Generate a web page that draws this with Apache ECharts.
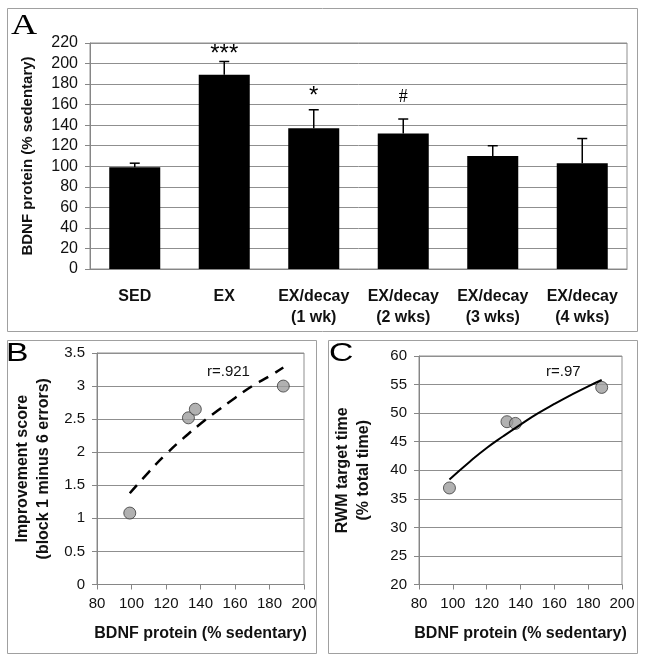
<!DOCTYPE html>
<html>
<head>
<meta charset="utf-8">
<title>BDNF protein</title>
<script src="https://cdn.jsdelivr.net/npm/echarts@6.0.0/dist/echarts.min.js"></script>
<style>
  html, body { margin: 0; padding: 0; background: #fff; }
  #chart { width: 645px; height: 659px; }
</style>
</head>
<body>
<div id="chart"></div>
<script>
// panel A: bars with upper error bars
var groups = ['SED', 'EX', 'EX/decay\n(1 wk)', 'EX/decay\n(2 wks)', 'EX/decay\n(3 wks)', 'EX/decay\n(4 wks)'];
var bdnf = [99, 189, 137, 132, 110, 103];
var bdnfTop = [103, 202, 155, 146, 120, 127];
var marks = ['', '***', '*', '#', '', ''];

// panel B: improvement score vs BDNF
var improve = [[99, 1.08], [133, 2.52], [137, 2.65], [188, 3.0]];
var improveTrend = [[99, 1.38], [110, 1.70], [120, 1.97], [130, 2.21], [140, 2.43], [150, 2.63],
                    [160, 2.82], [170, 3.00], [180, 3.15], [188, 3.28]];

// panel C: RWM target time vs BDNF
var rwm = [[98, 36.9], [132, 48.5], [137, 48.2], [188, 54.5]];
var rwmTrend = [[98, 38.4], [110, 41.5], [120, 43.9], [130, 46.0], [140, 48.0], [150, 49.9],
                [160, 51.6], [170, 53.2], [180, 54.7], [188, 55.8]];

var FONT = 'Liberation Sans, Arial, sans-serif';
var gridCol = '#8f8f8f';
var axisCol = '#868686';

function valueAxis(idx, min, max, step, extra) {
    var a = {
        type: 'value', gridIndex: idx, min: min, max: max, interval: step,
        axisLine: { show: true, lineStyle: { color: axisCol, width: 1 } },
        axisTick: { show: true, length: 5, lineStyle: { color: axisCol } },
        axisLabel: { color: '#111', fontFamily: FONT, fontSize: 15, margin: 12 },
        splitLine: { show: true, lineStyle: { color: gridCol, width: 1 } }
    };
    for (var k in extra) a[k] = extra[k];
    return a;
}

var chart = echarts.init(document.getElementById('chart'));

var option = {
    animation: false,
    backgroundColor: '#fff',
    grid: [
        { left: 90, top: 43, right: 18, bottom: 390, show: true, borderColor: gridCol, borderWidth: 1 },
        { left: 97, top: 353, right: 341, bottom: 74.5, show: true, borderColor: gridCol, borderWidth: 1 },
        { left: 419, top: 356, right: 23, bottom: 74.5, show: true, borderColor: gridCol, borderWidth: 1 }
    ],
    xAxis: [
        {
            type: 'category', gridIndex: 0, data: groups,
            axisLine: { lineStyle: { color: axisCol } },
            axisTick: { length: 5, lineStyle: { color: axisCol } },
            axisLabel: {
                color: '#111', fontFamily: FONT, fontSize: 16, fontWeight: 'bold',
                lineHeight: 21, margin: 17, interval: 0
            }
        },
        valueAxis(1, 80, 200, 20, {
            splitLine: { show: false },
            name: 'BDNF protein (% sedentary)', nameLocation: 'middle', nameGap: 41,
            nameTextStyle: { color: '#111', fontFamily: FONT, fontSize: 16, fontWeight: 'bold' }
        }),
        valueAxis(2, 80, 200, 20, {
            splitLine: { show: false },
            name: 'BDNF protein (% sedentary)', nameLocation: 'middle', nameGap: 41,
            nameTextStyle: { color: '#111', fontFamily: FONT, fontSize: 16, fontWeight: 'bold' }
        })
    ],
    yAxis: [
        valueAxis(0, 0, 220, 20, {
            axisLabel: { color: '#111', fontFamily: FONT, fontSize: 16, margin: 12 },
            name: 'BDNF protein (% sedentary)', nameLocation: 'middle', nameGap: 55,
            nameTextStyle: { color: '#111', fontFamily: FONT, fontSize: 15, fontWeight: 'bold' }
        }),
        valueAxis(1, 0, 3.5, 0.5, {
            name: 'Improvement score\n(block 1 minus 6 errors)', nameLocation: 'middle', nameGap: 43,
            nameTextStyle: { color: '#111', fontFamily: FONT, fontSize: 16, fontWeight: 'bold', lineHeight: 21 }
        }),
        valueAxis(2, 20, 60, 5, {
            name: 'RWM target time\n(% total time)', nameLocation: 'middle', nameGap: 45,
            nameTextStyle: { color: '#111', fontFamily: FONT, fontSize: 16, fontWeight: 'bold', lineHeight: 21 }
        })
    ],
    series: [
        {
            type: 'bar', xAxisIndex: 0, yAxisIndex: 0, data: bdnf,
            barWidth: '57%', itemStyle: { color: '#000' }
        },
        {
            type: 'custom', xAxisIndex: 0, yAxisIndex: 0,
            data: bdnf.map(function (v, i) { return [i, v, bdnfTop[i]]; }),
            renderItem: function (params, api) {
                var base = api.coord([api.value(0), api.value(1)]);
                var top = api.coord([api.value(0), api.value(2)]);
                var x = base[0];
                var kids = [
                    { type: 'line', shape: { x1: x, y1: base[1], x2: x, y2: top[1] },
                      style: { stroke: '#000', lineWidth: 1.5 } },
                    { type: 'line', shape: { x1: x - 5, y1: top[1], x2: x + 5, y2: top[1] },
                      style: { stroke: '#000', lineWidth: 1.5 } }
                ];
                var m = marks[params.dataIndex];
                if (m) {
                    var serif = m === '#';
                    kids.push({
                        type: 'text',
                        style: {
                            text: m, x: x, y: top[1] - (m === '***' ? 7 : (serif ? 22 : 13)),
                            align: 'center', verticalAlign: 'middle',
                            font: serif ? '18px Liberation Serif, serif' : '24px ' + FONT,
                            fill: '#000'
                        }
                    });
                }
                return { type: 'group', children: kids };
            },
            z: 5
        },
        {
            type: 'line', xAxisIndex: 1, yAxisIndex: 1, data: improveTrend,
            smooth: true, symbol: 'none',
            lineStyle: { color: '#000', width: 2.5, type: [11, 8] }
        },
        {
            type: 'scatter', xAxisIndex: 1, yAxisIndex: 1, data: improve,
            symbolSize: 12,
            itemStyle: { color: '#9e9e9e', borderColor: '#3a3a3a', borderWidth: 1 }
        },
        {
            type: 'line', xAxisIndex: 2, yAxisIndex: 2, data: rwmTrend,
            smooth: true, symbol: 'none',
            lineStyle: { color: '#000', width: 2 }
        },
        {
            type: 'scatter', xAxisIndex: 2, yAxisIndex: 2, data: rwm,
            symbolSize: 12,
            itemStyle: { color: '#9e9e9e', borderColor: '#3a3a3a', borderWidth: 1 }
        }
    ],
    graphic: [
        { type: 'rect', shape: { x: 7.5, y: 8.5, width: 630, height: 323 },
          style: { fill: null, stroke: '#a0a0a0', lineWidth: 1 }, z: -1 },
        { type: 'rect', shape: { x: 7.5, y: 340.5, width: 309, height: 313 },
          style: { fill: null, stroke: '#a0a0a0', lineWidth: 1 }, z: -1 },
        { type: 'rect', shape: { x: 328.5, y: 340.5, width: 309, height: 313 },
          style: { fill: null, stroke: '#a0a0a0', lineWidth: 1 }, z: -1 },
        { type: 'text', x: 11, y: 12, scaleX: 1.25,
          style: { text: 'A', font: '29px Liberation Serif, serif', fill: '#000' } },
        { type: 'text', x: 6, y: 342, scaleX: 1.35,
          style: { text: 'B', font: '25px ' + FONT, fill: '#000' } },
        { type: 'text', x: 329, y: 342, scaleX: 1.35,
          style: { text: 'C', font: '25px ' + FONT, fill: '#000' } },
        { type: 'text', x: 207, y: 364,
          style: { text: 'r=.921', font: '15px ' + FONT, fill: '#111' } },
        { type: 'text', x: 546, y: 364,
          style: { text: 'r=.97', font: '15px ' + FONT, fill: '#111' } }
    ]
};

chart.setOption(option);
</script>
</body>
</html>
